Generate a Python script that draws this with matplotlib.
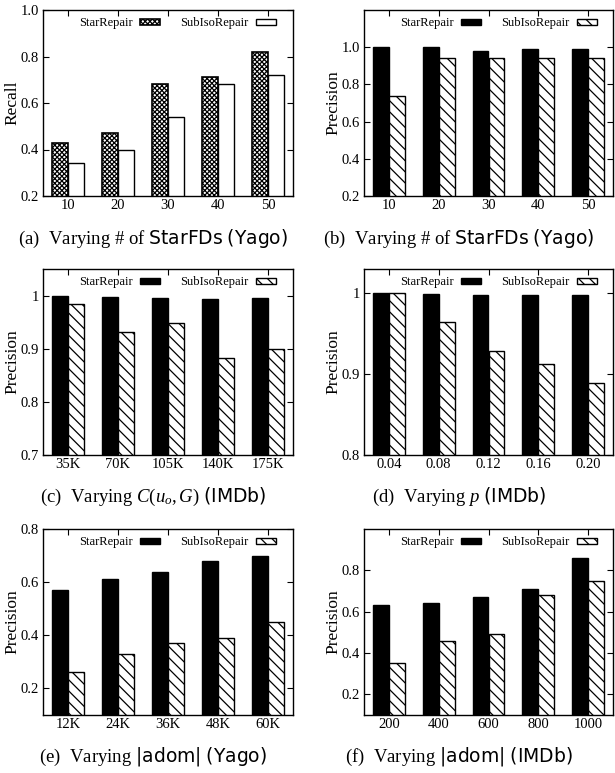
import matplotlib
matplotlib.use("Agg")
import matplotlib.pyplot as plt
import numpy as np

plt.rcParams['font.family'] = ['Liberation Serif', 'DejaVu Serif']
plt.rcParams['mathtext.fontset'] = 'custom'
plt.rcParams['mathtext.rm'] = 'Liberation Serif'
plt.rcParams['mathtext.it'] = 'Liberation Serif:italic'
plt.rcParams['mathtext.bf'] = 'Liberation Serif:bold'
plt.rcParams['mathtext.sf'] = 'DejaVu Sans'
plt.rcParams['hatch.linewidth'] = 0.9

series_names = ["StarRepair", "SubIsoRepair"]

# (a)
a_cats = ["10", "20", "30", "40", "50"]
a_star = [0.43, 0.47, 0.68, 0.71, 0.82]
a_sub = [0.34, 0.40, 0.54, 0.68, 0.72]
# (b)
b_cats = ["10", "20", "30", "40", "50"]
b_star = [1.0, 1.0, 0.98, 0.99, 0.99]
b_sub = [0.74, 0.94, 0.94, 0.94, 0.94]
# (c)
c_cats = ["35K", "70K", "105K", "140K", "175K"]
c_star = [1.0, 0.997, 0.995, 0.994, 0.995]
c_sub = [0.984, 0.932, 0.949, 0.882, 0.900]
# (d)
d_cats = ["0.04", "0.08", "0.12", "0.16", "0.20"]
d_star = [1.0, 0.999, 0.998, 0.998, 0.998]
d_sub = [1.0, 0.964, 0.928, 0.912, 0.889]
# (e)
e_cats = ["12K", "24K", "36K", "48K", "60K"]
e_star = [0.57, 0.61, 0.64, 0.68, 0.70]
e_sub = [0.26, 0.33, 0.37, 0.39, 0.45]
# (f)
f_cats = ["200", "400", "600", "800", "1000"]
f_star = [0.63, 0.64, 0.67, 0.71, 0.86]
f_sub = [0.35, 0.46, 0.49, 0.68, 0.75]

captions = [
    r"(a)  Varying # of $\mathsf{StarFDs}$ $\mathsf{(Yago)}$",
    r"(b)  Varying # of $\mathsf{StarFDs}$ $\mathsf{(Yago)}$",
    r"(c)  Varying $C(u_o,G)$ $\mathsf{(IMDb)}$",
    r"(d)  Varying $p$ $\mathsf{(IMDb)}$",
    r"(e)  Varying $\mathsf{|adom|}$ $\mathsf{(Yago)}$",
    r"(f)  Varying $\mathsf{|adom|}$ $\mathsf{(IMDb)}$",
]

panels = [
    dict(cats=a_cats, star=a_star, sub=a_sub, ylim=(0.2, 1.0), yticks=[0.2, 0.4, 0.6, 0.8, 1.0],
         ytl=["0.2", "0.4", "0.6", "0.8", "1.0"], ylabel="Recall", style="a"),
    dict(cats=b_cats, star=b_star, sub=b_sub, ylim=(0.2, 1.2), yticks=[0.2, 0.4, 0.6, 0.8, 1.0],
         ytl=["0.2", "0.4", "0.6", "0.8", "1.0"], ylabel="Precision", style="b"),
    dict(cats=c_cats, star=c_star, sub=c_sub, ylim=(0.7, 1.05), yticks=[0.7, 0.8, 0.9, 1.0],
         ytl=["0.7", "0.8", "0.9", "1"], ylabel="Precision", style="b"),
    dict(cats=d_cats, star=d_star, sub=d_sub, ylim=(0.8, 1.03), yticks=[0.8, 0.9, 1.0],
         ytl=["0.8", "0.9", "1"], ylabel="Precision", style="b"),
    dict(cats=e_cats, star=e_star, sub=e_sub, ylim=(0.1, 0.8), yticks=[0.2, 0.4, 0.6, 0.8],
         ytl=["0.2", "0.4", "0.6", "0.8"], ylabel="Precision", style="b"),
    dict(cats=f_cats, star=f_star, sub=f_sub, ylim=(0.1, 1.0), yticks=[0.2, 0.4, 0.6, 0.8],
         ytl=["0.2", "0.4", "0.6", "0.8"], ylabel="Precision", style="b"),
]

W, H = 615, 773
fig = plt.figure(figsize=(W / 100, H / 100), dpi=100)

col_x = [(43, 293), (364, 613)]
row_y = [(10, 196), (269, 455), (529, 715)]
cap_y = [239, 497, 757]
cap_x = [153, 459]
ylab_x = [[-0.09, -0.09], [-0.09, -0.09], [-0.09, -0.09]]

bw = 0.32
for i, p in enumerate(panels):
    r, c = divmod(i, 2)
    x0, x1 = col_x[c]
    yt, yb = row_y[r]
    ax = fig.add_axes([x0 / W, 1 - yb / H, (x1 - x0) / W, (yb - yt) / H])
    x = np.arange(len(p["cats"]))
    if p["style"] == "a":
        ax.bar(x - bw / 2, p["star"], bw, color="white", edgecolor="black",
               hatch="xxxxxxx", linewidth=1.2, label=series_names[0])
        ax.bar(x + bw / 2, p["sub"], bw, color="white", edgecolor="black",
               linewidth=1.0, label=series_names[1])
    else:
        ax.bar(x - bw / 2, p["star"], bw, color="black", edgecolor="black",
               linewidth=1.0, label=series_names[0])
        ax.bar(x + bw / 2, p["sub"], bw, color="white", edgecolor="black",
               hatch="\\\\\\", linewidth=1.0, label=series_names[1])
    ax.set_xlim(-0.5, 4.5)
    ax.set_ylim(*p["ylim"])
    ax.set_xticks(x)
    ax.set_xticklabels(p["cats"], fontsize=10.5)
    ax.set_yticks(p["yticks"])
    ax.set_yticklabels(p["ytl"], fontsize=10.5)
    ax.tick_params(direction="in", top=True, right=True, length=4, width=0.8, pad=3)
    ax.tick_params(axis="x", pad=2)
    for s in ax.spines.values():
        s.set_linewidth(1.0)
    ax.set_ylabel(p["ylabel"], fontsize=12.5)
    ax.yaxis.set_label_coords(ylab_x[r][c], 0.5)
    ax.legend(loc="upper left", bbox_to_anchor=(0.145, 0.96), ncol=2, frameon=False,
              markerfirst=False, fontsize=9, handlelength=1.6, handleheight=0.45,
              handletextpad=0.6, columnspacing=1.6, borderpad=0, borderaxespad=0)
    fig.text(cap_x[c] / W, 1 - cap_y[r] / H, captions[i], ha="center", va="center", fontsize=13.5)

fig.savefig("out.png", dpi=100)
